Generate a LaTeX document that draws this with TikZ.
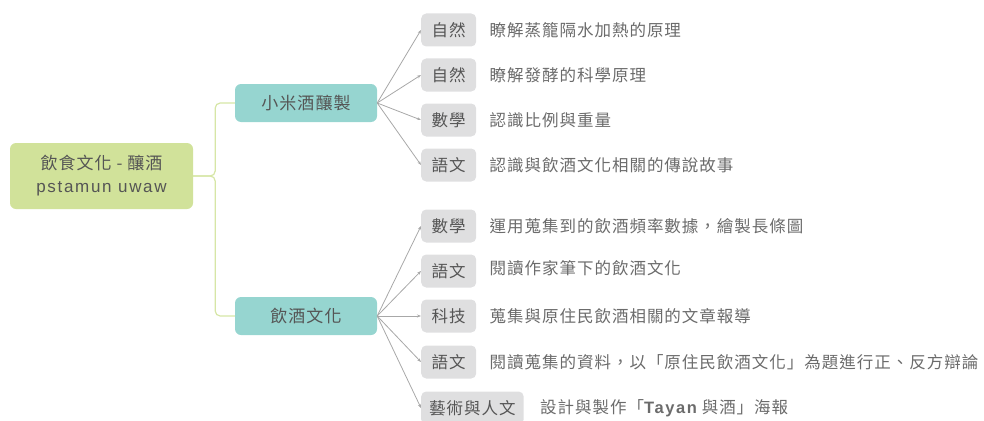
\documentclass[tikz,border=0pt]{standalone}
\usepackage{fontspec}
\setmainfont[LetterSpace=6]{Noto Sans CJK TC}
\newfontfamily\latin[LetterSpace=10]{Liberation Sans}
\usetikzlibrary{arrows.meta,positioning}
\definecolor{rootgreen}{HTML}{D1E29A}
\definecolor{linkgreen}{HTML}{D6E6A6}
\definecolor{topicteal}{HTML}{96D5D0}
\definecolor{subjgray}{HTML}{DFDFE0}
\definecolor{inkgray}{HTML}{555555}
\definecolor{notegray}{HTML}{6B6B6B}
\definecolor{arrowgray}{HTML}{A8A8A8}
\tikzset{>={Stealth[length=4pt,width=3pt]},
	root/.style={fill=rootgreen, rounded corners=6pt, minimum width=183pt,
		minimum height=66pt, align=center, text=inkgray,
		font=\fontsize{17}{23}\selectfont},
	topic/.style={fill=topicteal, rounded corners=6pt, minimum width=142pt,
		minimum height=38pt, text=inkgray, font=\fontsize{17}{20}\selectfont},
	subj/.style={fill=subjgray, rounded corners=5pt, anchor=west,
		minimum width=55pt, minimum height=33pt, inner xsep=8pt,
		text=inkgray, font=\fontsize{16.5}{18}\selectfont},
	note/.style={inner sep=0pt, text=notegray, font=\fontsize{16.5}{18}\selectfont},
	branch/.style={draw=linkgreen, line width=1.2pt, rounded corners=5pt},
	leaf/.style={draw=arrowgray, line width=0.8pt, ->}}

\begin{document}
\begin{tikzpicture}[x=1pt, y=-1pt]
	\useasboundingbox (0,0) rectangle (984,420);
	% root and topics
	\node[root] (root) at (101.5,176) {飲食文化 - 釀酒\\{\latin pstamun uwaw}};
	\node[topic] (brew) at (306,103) {小米酒釀製};
	\node[topic] (drink) at (306,316) {飲酒文化};
	\draw[branch] (root.east) -- ++(22,0) |- (brew.west);
	\draw[branch] (root.east) -- ++(22,0) |- (drink.west);
	% subjects of the first topic
	\node[subj] (s1) at (421,30) {自然};
	\node[subj] (s2) at (421,75) {自然};
	\node[subj] (s3) at (421,120) {數學};
	\node[subj] (s4) at (421,165) {語文};
	\node[note, right=13pt of s1] (n1) {瞭解蒸籠隔水加熱的原理};
	\node[note, right=13pt of s2] (n2) {瞭解發酵的科學原理};
	\node[note, right=13pt of s3] (n3) {認識比例與重量};
	\node[note, right=13pt of s4] (n4) {認識與飲酒文化相關的傳說故事};
	\foreach \s in {s1,s2,s3,s4}
		\draw[leaf] (brew.east) -- (\s.west);
	% subjects of the second topic
	\node[subj] (s5) at (421,226) {數學};
	\node[subj] (s6) at (421,271) {語文};
	\node[subj] (s7) at (421,316) {科技};
	\node[subj] (s8) at (421,362) {語文};
	\node[subj] (s9) at (421,408) {藝術與人文};
	\node[note, right=13pt of s5] (n5) {運用蒐集到的飲酒頻率數據，繪製長條圖};
	\node[note, right=13pt of s6, yshift=3pt] (n6) {閱讀作家筆下的飲酒文化};
	\node[note, right=13pt of s7] (n7) {蒐集與原住民飲酒相關的文章報導};
	\node[note, right=13pt of s8] (n8) {閱讀蒐集的資料，以「原住民飲酒文化」為題進行正、反方辯論};
	\node[note, right=16pt of s9] (n9) {設計與製作「{\latin\bfseries Tayan} 與酒」海報};
	\foreach \s in {s5,s6,s7,s8,s9}
		\draw[leaf] (drink.east) -- (\s.west);
\end{tikzpicture}
\end{document}
